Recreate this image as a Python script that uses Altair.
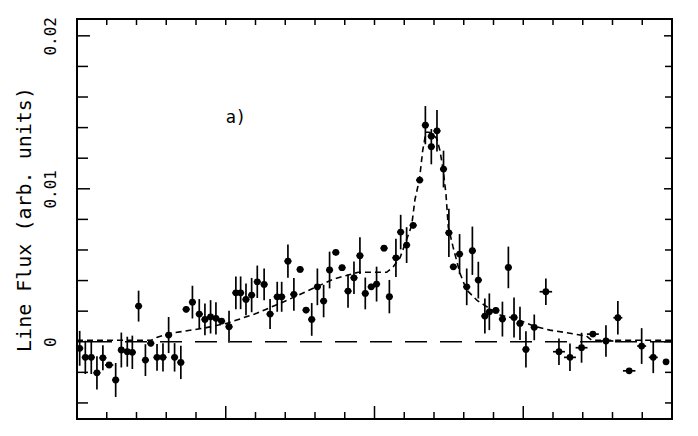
import altair as alt
import pandas as pd

# ---- data ----
position = [0.09, 0.28, 0.48, 0.67, 0.87, 1.08, 1.30, 1.49, 1.69, 1.86,
            2.07, 2.30, 2.48, 2.69, 2.89, 3.08, 3.28, 3.49, 3.67, 3.88,
            4.11, 4.30, 4.49, 4.67, 4.86, 5.11, 5.34, 5.50, 5.68, 5.87,
            6.06, 6.29, 6.49, 6.73, 6.88, 7.09, 7.29, 7.50, 7.70, 7.89,
            8.08, 8.29, 8.49, 8.70, 8.91, 9.11, 9.31, 9.51, 9.69, 9.89,
            10.07, 10.32, 10.50, 10.72, 10.88, 11.08, 11.30, 11.52, 11.71, 11.91,
            11.91, 12.10, 12.32, 12.50, 12.65, 12.86, 13.10, 13.29, 13.49, 13.71,
            13.86, 14.08, 14.30, 14.50, 14.69, 14.89, 15.09, 15.37, 15.76, 16.20,
            16.57, 16.96, 17.34, 17.78, 18.18, 18.56, 18.98, 19.37, 19.80]
flux = [-0.00043, -0.00102, -0.00102, -0.00203, -0.00105, -0.00152, -0.00250, -0.00054, -0.00065, -0.00069,
        0.00233, -0.00120, -0.00010, -0.00102, -0.00102, 0.00044, -0.00102, -0.00135, 0.00212, 0.00259,
        0.00181, 0.00146, 0.00163, 0.00153, 0.00135, 0.00098, 0.00320, 0.00320, 0.00277, 0.00305,
        0.00392, 0.00375, 0.00181, 0.00294, 0.00294, 0.00527, 0.00310, 0.00473, 0.00207, 0.00146,
        0.00359, 0.00266, 0.00469, 0.00584, 0.00484, 0.00331, 0.00418, 0.00563, 0.00316, 0.00359,
        0.00377, 0.00612, 0.00295, 0.00549, 0.00717, 0.00632, 0.00761, 0.01057, 0.01416, 0.01344,
        0.01275, 0.01379, 0.01129, 0.00712, 0.00490, 0.00573, 0.00359, 0.00595, 0.00403, 0.00168,
        0.00196, 0.00205, 0.00148, 0.00486, 0.00159, 0.00120, -0.00050, 0.00094, 0.00327, -0.00065,
        -0.00102, -0.00039, 0.00050, 0.00005, 0.00157, -0.00190, -0.00028, -0.00102, -0.00131]
flux_err = [0.00114, 0.00109, 0.00109, 0.00109, 0.00082, 0.00020, 0.00111, 0.00114, 0.00098, 0.00109,
            0.00101, 0.00104, 0.00020, 0.00087, 0.00092, 0.00118, 0.00093, 0.00109, 0.00020, 0.00107,
            0.00098, 0.00104, 0.00109, 0.00105, 0.00020, 0.00104, 0.00107, 0.00107, 0.00104, 0.00112,
            0.00106, 0.00104, 0.00098, 0.00098, 0.00098, 0.00109, 0.00107, 0.00020, 0.00020, 0.00107,
            0.00120, 0.00106, 0.00120, 0.00020, 0.00020, 0.00109, 0.00106, 0.00120, 0.00104, 0.00020,
            0.00114, 0.00020, 0.00109, 0.00125, 0.00113, 0.00117, 0.00020, 0.00020, 0.00125, 0.00020,
            0.00115, 0.00136, 0.00120, 0.00158, 0.00020, 0.00131, 0.00120, 0.00158, 0.00120, 0.00114,
            0.00120, 0.00020, 0.00114, 0.00136, 0.00131, 0.00109, 0.00118, 0.00084, 0.00087, 0.00087,
            0.00090, 0.00098, 0.00010, 0.00103, 0.00109, 0.00010, 0.00117, 0.00103, 0.00010]
position_err = [0.12, 0.12, 0.12, 0.12, 0.12, 0.14, 0.12, 0.12, 0.12, 0.12,
                0.12, 0.12, 0.12, 0.12, 0.12, 0.12, 0.12, 0.12, 0.12, 0.12,
                0.12, 0.12, 0.12, 0.12, 0.12, 0.12, 0.12, 0.12, 0.12, 0.12,
                0.12, 0.12, 0.12, 0.12, 0.12, 0.12, 0.12, 0.12, 0.12, 0.12,
                0.12, 0.12, 0.12, 0.12, 0.12, 0.12, 0.12, 0.12, 0.12, 0.12,
                0.12, 0.12, 0.12, 0.12, 0.12, 0.12, 0.12, 0.12, 0.12, 0.12,
                0.12, 0.12, 0.12, 0.12, 0.12, 0.12, 0.12, 0.12, 0.12, 0.12,
                0.12, 0.12, 0.12, 0.12, 0.12, 0.12, 0.12, 0.12, 0.21, 0.20,
                0.20, 0.20, 0.20, 0.25, 0.15, 0.21, 0.15, 0.15, 0.10]

model_x = [0, 2.5, 2.7, 3.13, 4.24, 5.03, 6.04, 7.05, 8.06, 8.62,
           9.18, 9.45, 10.41, 10.63, 10.86, 11.25, 11.36, 11.51, 11.62, 11.73,
           11.84, 12.09, 12.20, 12.31, 12.40, 12.48, 12.64, 12.87, 13.09, 13.45,
           13.77, 14.22, 14.55, 15.0, 15.4, 15.9, 16.46, 16.91, 17.13, 17.3, 20]
model_y = [0.0001, 0.0001, 0.0003, 0.00055, 0.00088, 0.0012, 0.00186, 0.0027, 0.0036, 0.0041,
           0.0044, 0.00454, 0.00454, 0.0049, 0.0055, 0.0076, 0.0093, 0.0106, 0.0125, 0.0137,
           0.0137, 0.0133, 0.0125, 0.0112, 0.0097, 0.0075, 0.0062, 0.0045, 0.0034, 0.0027,
           0.0023, 0.00175, 0.0016, 0.0013, 0.001, 0.00076, 0.00059, 0.00044, 0.00037, 0.0001, 0.0001]

y_major_ticks = [0.0, 0.01, 0.02]
y_minor_ticks = [-0.004, -0.002, 0.002, 0.004, 0.006, 0.008, 0.012, 0.014, 0.016, 0.018]
x_major_ticks = [5, 10, 15]
x_minor_ticks = [1, 2, 3, 4, 6, 7, 8, 9, 11, 12, 13, 14, 16, 17, 18, 19]
x_domain = [0, 20]
y_domain = [-0.00505, 0.0211]
zero_level = [0.0]
panel_label = ["a)"]
panel_label_x = [5.34]
panel_label_y = [0.01462]

# ---- chart ----
W, H = 595, 400
FONT = "DejaVu Sans Mono"
xs = alt.Scale(domain=x_domain, nice=False, zero=False)
ys = alt.Scale(domain=y_domain, nice=False, zero=False)

pts = pd.DataFrame({"x": position, "y": flux, "e": flux_err, "xe": position_err})
pts["ylo"] = pts["y"] - pts["e"]
pts["yhi"] = pts["y"] + pts["e"]
pts["xlo"] = pts["x"] - pts["xe"]
pts["xhi"] = pts["x"] + pts["xe"]

yaxis = alt.Axis(values=y_major_ticks, format=".2~f", labelAngle=270, labelAlign="center",
                 labelBaseline="middle", labelPadding=27, tickSize=0, ticks=False, domain=False,
                 grid=False, labelFont=FONT, labelFontSize=16, labelColor="black",
                 labelFlush=False, labelOverlap=False,
                 title="Line Flux (arb. units)", titleFont=FONT, titleFontSize=20,
                 titleFontWeight="normal", titleColor="black", titleAngle=270,
                 titleAlign="center", titleBaseline="middle", titleX=-53, titleY=200)


def Y(field):
    return alt.Y(field, scale=ys, axis=yaxis)


def X(field):
    return alt.X(field, scale=xs, axis=None)


zero = alt.Chart(pd.DataFrame({"v": zero_level})).mark_rule(
    color="black", strokeWidth=1.7, strokeDash=[22, 13]
).encode(y=Y("v:Q"))

model = alt.Chart(pd.DataFrame({"x": model_x, "y": model_y})).mark_line(
    color="black", strokeWidth=1.6, strokeDash=[6, 4]
).encode(x=X("x:Q"), y=Y("y:Q"))

ebar = alt.Chart(pts).mark_rule(color="black", strokeWidth=1.7).encode(
    x=X("x:Q"), y=Y("ylo:Q"), y2="yhi:Q")

xbar = alt.Chart(pts).mark_rule(color="black", strokeWidth=1.7).encode(
    x=X("xlo:Q"), x2="xhi:Q", y=Y("y:Q"))

dots = alt.Chart(pts).mark_point(filled=True, shape="circle", size=46, color="black", opacity=1).encode(
    x=X("x:Q"), y=Y("y:Q"))

label = alt.Chart(pd.DataFrame({"x": panel_label_x, "y": panel_label_y, "t": panel_label})).mark_text(
    font=FONT, fontSize=17, color="black", align="center", baseline="middle"
).encode(x=X("x:Q"), y=Y("y:Q"), text="t:N")


def yticks(vals, x0, x1):
    return alt.Chart(pd.DataFrame({"v": vals})).mark_rule(color="black", strokeWidth=1.5).encode(
        y=Y("v:Q"), x=alt.value(x0), x2=alt.value(x1))


def xticks(vals, y0, y1):
    return alt.Chart(pd.DataFrame({"v": vals})).mark_rule(color="black", strokeWidth=1.5).encode(
        x=X("v:Q"), y=alt.value(y0), y2=alt.value(y1))


ticks = [
    yticks(y_minor_ticks, 0, 11), yticks(y_major_ticks, 0, 13),
    yticks(y_minor_ticks, W - 7, W), yticks(y_major_ticks, W - 8, W),
    xticks(x_minor_ticks, H, H - 7), xticks(x_major_ticks, H, H - 13),
    xticks(x_minor_ticks, 0, 6), xticks(x_major_ticks, 0, 6),
]

chart = alt.layer(zero, model, ebar, xbar, dots, label, *ticks).properties(
    width=W, height=H,
    autosize=alt.AutoSizeParams(type="none"),
    padding={"left": 69, "top": 11, "right": 18, "bottom": 9},
    background="white",
).configure_view(stroke="black", strokeWidth=2)

chart.save("out.html", embed_options={"renderer": "svg", "actions": False})
